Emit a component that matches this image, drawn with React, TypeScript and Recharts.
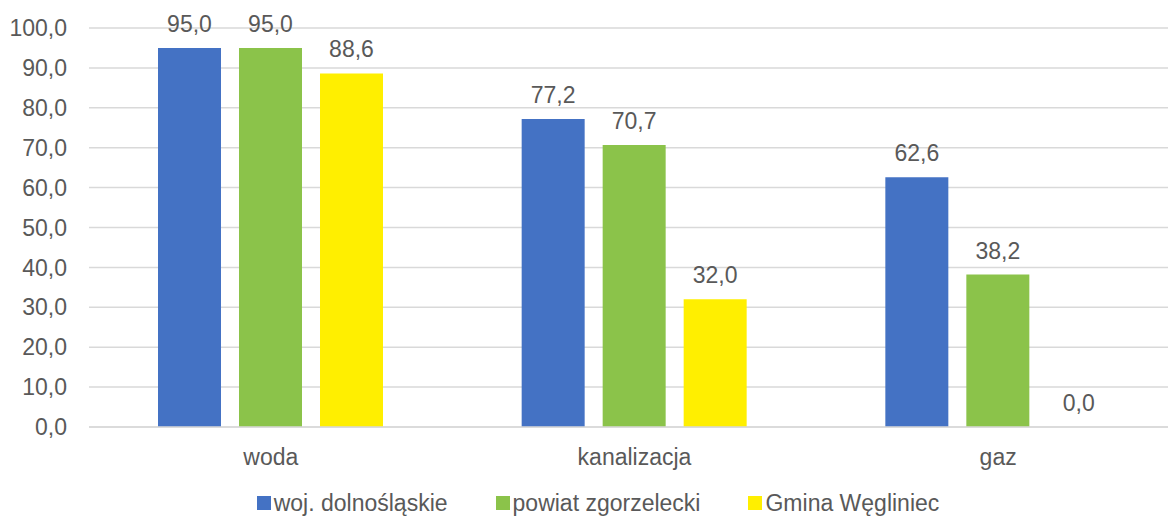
import React from "react";
import { Bar, BarChart, CartesianGrid, LabelList, Legend, XAxis, YAxis } from "recharts";

const categories = ["woda", "kanalizacja", "gaz"];
const wojDolnoslaskie = [95.0, 77.2, 62.6];
const powiatZgorzelecki = [95.0, 70.7, 38.2];
const gminaWegliniec = [88.6, 32.0, 0.0];
const yTicks = [0, 10, 20, 30, 40, 50, 60, 70, 80, 90, 100];

const SERIES = [
  { key: "woj", name: "woj. dolnośląskie", color: "#4472C4" },
  { key: "powiat", name: "powiat zgorzelecki", color: "#8BC34A" },
  { key: "gmina", name: "Gmina Węgliniec", color: "#FFEF00" },
];

const FONT = "'Liberation Sans', Arial, sans-serif";
const TEXT = "#595959";
const FS = 23;

const data = categories.map((name, i) => ({
  name,
  woj: wojDolnoslaskie[i],
  powiat: powiatZgorzelecki[i],
  gmina: gminaWegliniec[i],
}));

const fmt = (v: any) => Number(v).toFixed(1).replace(".", ",");

const LegendContent = () => (
  <div
    style={{
      height: 40,
      display: "flex",
      justifyContent: "center",
      alignItems: "flex-start",
      gap: 48,
      paddingLeft: 16,
      paddingTop: 13,
      boxSizing: "border-box",
      fontFamily: FONT,
      fontSize: FS,
      color: TEXT,
      lineHeight: "24px",
    }}
  >
    {SERIES.map((s) => (
      <div key={s.key} style={{ display: "flex", alignItems: "center" }}>
        <span
          style={{
            width: 14,
            height: 14,
            background: s.color,
            display: "inline-block",
            marginRight: 3,
          }}
        />
        <span>{s.name}</span>
      </div>
    ))}
  </div>
);

const App = () => {
  return (
    <div
      style={{
        position: "absolute",
        top: 0,
        left: 0,
        width: 1168,
        height: 518,
        overflow: "hidden",
        background: "#fff",
      }}
    >
      <BarChart
        width={1180}
        height={518}
        data={data}
        margin={{ top: 28, right: 0, left: 0, bottom: 0 }}
        barGap={18}
        barSize={63}
      >
        <CartesianGrid vertical={false} stroke="#D9D9D9" strokeWidth={1.5} />
        <XAxis
          dataKey="name"
          height={51}
          tickSize={0}
          tickMargin={22}
          axisLine={{ stroke: "#D9D9D9", strokeWidth: 1.5 }}
          tick={{ fill: TEXT, fontSize: FS, fontFamily: FONT }}
        />
        <YAxis
          width={89}
          domain={[0, 100]}
          ticks={yTicks}
          tickFormatter={fmt}
          tickSize={0}
          tickMargin={22}
          axisLine={false}
          tickLine={false}
          tick={{ fill: TEXT, fontSize: FS, fontFamily: FONT }}
        />
        <Legend
          verticalAlign="bottom"
          content={<LegendContent />}
          wrapperStyle={{ width: 1180, left: 0, bottom: 0 }}
        />
        {SERIES.map((s) => (
          <Bar
            key={s.key}
            dataKey={s.key}
            name={s.name}
            fill={s.color}
            minPointSize={0.01}
            isAnimationActive={false}
          >
            <LabelList
              dataKey={s.key}
              position="top"
              offset={16}
              formatter={fmt}
              fill={TEXT}
              fontSize={FS}
              fontFamily={FONT}
            />
          </Bar>
        ))}
      </BarChart>
    </div>
  );
};

export default App;
